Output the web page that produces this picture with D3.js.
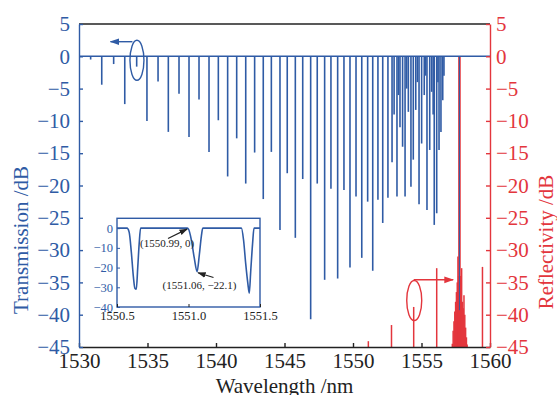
<!DOCTYPE html>
<html>
<head>
<meta charset="utf-8">
<script src="https://cdn.jsdelivr.net/npm/d3@7"></script>
<style>
  body { margin: 0; background: #fff; }
  svg { display: block; }
  text { font-family: "Liberation Serif", "DejaVu Serif", serif; }
</style>
</head>
<body>
<div id="chart"></div>
<script>

// transmission dips (wavelength nm, depth dB)
var dipWl = [1530.85, 1531.66, 1532.53, 1533.34, 1534.21, 1534.96, 1535.77, 1536.52, 1537.30, 1538.03,
             1538.76, 1539.49, 1540.17, 1540.85, 1541.51, 1542.17, 1542.82, 1543.45, 1544.04, 1544.67,
             1545.20, 1545.79, 1546.33, 1546.91, 1547.39, 1547.93, 1548.39, 1548.88, 1549.34, 1549.78,
             1550.22, 1550.64, 1551.07, 1551.44, 1551.82, 1552.17, 1552.55, 1552.85, 1553.00, 1553.21,
             1553.32, 1553.43, 1553.62, 1553.80, 1553.92, 1554.04, 1554.23, 1554.40, 1554.58, 1554.70,
             1554.82, 1555.01, 1555.20, 1555.30, 1555.40, 1555.60, 1555.74, 1555.85, 1555.93, 1556.11,
             1556.20, 1556.28, 1556.42, 1556.55, 1556.64, 1557.77];
var dipDb = [-0.5, -4.4, -1.2, -7.4, -1.6, -10, -3.9, -11.7, -5.8, -12.5,
             -6.7, -14.8, -9.9, -18.6, -12.7, -19.7, -14.9, -22.1, -14.8, -26.9,
             -18.1, -28.1, -19, -40.7, -19.7, -34.6, -20.5, -34.4, -20.7, -32.7,
             -21.7, -31.2, -22.5, -33.2, -22.2, -25.8, -21.9, -16.4, -9, -21.7,
             -6, -11, -14, -21.7, -5, -8.6, -20.2, -16, -8.3, -4,
             -22.9, -13.5, -6, -3, -23.8, -14.5, -5.5, -9, -26.1, -24.3,
             -4, -14.5, -11.7, -6.8, -3, -39.3];

// reflectivity spikes (wavelength nm, dB)
var reflWl = [1551.12, 1552.81, 1554.43, 1556.11, 1559.45,
              1557.25, 1557.31, 1557.37, 1557.43, 1557.49, 1557.55, 1557.61, 1557.66, 1557.71, 1557.77,
              1557.83, 1557.88, 1557.93, 1557.99, 1558.05, 1558.10, 1558.16, 1558.22, 1558.28, 1558.33];
var reflDb = [-44.1, -41.6, -38.8, -32.8, -32.6,
              -44.5, -42.5, -41, -39.5, -38, -36.5, -35, -31, -34, 0,
              -34, -36, -32.8, -38, -39, -37, -40, -42, -43.5, -44.6];

// inset curve
var insetWl = [1550.50, 1550.57, 1550.585, 1550.60, 1550.615, 1550.625, 1550.635, 1550.645, 1550.655, 1550.665,
               1550.99, 1551.00, 1551.02, 1551.04, 1551.06, 1551.075, 1551.09, 1551.10,
               1551.37, 1551.385, 1551.40, 1551.415, 1551.425, 1551.435, 1551.448, 1551.458, 1551.50];
var insetDb = [0, 0, -2, -12, -25, -30.5, -31, -20, -8, 0,
               0, -0.5, -6, -15, -22.1, -14, -4, 0,
               0, -6, -18, -28, -33, -22, -8, 0, 0];

var xTicks = [1530, 1535, 1540, 1545, 1550, 1555, 1560];
var yTicks = [5, 0, -5, -10, -15, -20, -25, -30, -35, -40, -45];
var insetXTicks = [1550.5, 1551.0, 1551.5];
var insetYTicks = [0, -10, -20, -30, -40];

var W = 557, H = 395,
    margin = {top: 24, right: 67, bottom: 48, left: 79},
    blue = '#2f5ba5',
    red = '#e3363d',
    ink = '#222';

var svg = d3.select('#chart').append('svg').attr('width', W).attr('height', H);

var x = d3.scaleLinear().domain([1530, 1560]).range([margin.left, W - margin.right]);
var y = d3.scaleLinear().domain([-45, 5]).range([H - margin.bottom, margin.top]);

var minus = function(v) { return String(v).replace('-', '\u2212'); };

var defs = svg.append('defs');
function marker(id, col) {
    defs.append('marker')
        .attr('id', id).attr('viewBox', '0 0 10 10')
        .attr('refX', 9).attr('refY', 5)
        .attr('markerWidth', 7).attr('markerHeight', 7)
        .attr('orient', 'auto-start-reverse')
        .append('path').attr('d', 'M0,1.5L10,5L0,8.5Z').attr('fill', col);
}
marker('ah-blue', blue);
marker('ah-red', red);
marker('ah-ink', ink);

// red reflectivity spikes
svg.append('g').selectAll('line').data(reflWl).enter().append('line')
    .attr('x1', function(d) { return x(d); })
    .attr('x2', function(d) { return x(d); })
    .attr('y1', y(-45))
    .attr('y2', function(d, i) { return y(reflDb[i]); })
    .attr('stroke', red)
    .attr('stroke-width', function(d, i) { return reflDb[i] === 0 ? 2.6 : 1.5; });

// blue transmission baseline and dips
svg.append('line')
    .attr('x1', x(1530)).attr('x2', x(1560))
    .attr('y1', y(0)).attr('y2', y(0))
    .attr('stroke', blue).attr('stroke-width', 1.6);

svg.append('g').selectAll('line').data(dipWl).enter().append('line')
    .attr('x1', function(d) { return x(d); })
    .attr('x2', function(d) { return x(d); })
    .attr('y1', y(0))
    .attr('y2', function(d, i) { return y(dipDb[i]); })
    .attr('stroke', blue)
    .attr('stroke-width', function(d, i) { return i === dipWl.length - 1 ? 1 : 1.6; });

// axes
var xAxis = svg.append('g')
    .attr('transform', 'translate(0,' + y(-45) + ')')
    .call(d3.axisBottom(x).tickValues(xTicks).tickSize(-4).tickSizeOuter(0).tickPadding(6).tickFormat(d3.format('d')));
xAxis.selectAll('path,line').attr('stroke', ink).attr('stroke-width', 1.4);
xAxis.selectAll('text').attr('fill', ink).style('font-size', '21px');

svg.append('line')
    .attr('x1', x(1530)).attr('x2', x(1560))
    .attr('y1', y(5)).attr('y2', y(5))
    .attr('stroke', ink).attr('stroke-width', 1.4);

var yAxis = svg.append('g')
    .attr('transform', 'translate(' + x(1530) + ',0)')
    .call(d3.axisLeft(y).tickValues(yTicks).tickSize(-4).tickSizeOuter(0).tickPadding(9).tickFormat(minus));
yAxis.selectAll('path,line').attr('stroke', blue).attr('stroke-width', 1.4);
yAxis.selectAll('text').attr('fill', blue).style('font-size', '21px');

var rAxis = svg.append('g')
    .attr('transform', 'translate(' + x(1560) + ',0)')
    .call(d3.axisRight(y).tickValues(yTicks).tickSize(-4).tickSizeOuter(0).tickPadding(6).tickFormat(minus));
rAxis.selectAll('path,line').attr('stroke', red).attr('stroke-width', 1.4);
rAxis.selectAll('text').attr('fill', red).style('font-size', '21px');

// axis titles
svg.append('text')
    .attr('transform', 'translate(27.5,240) rotate(-90)')
    .attr('text-anchor', 'middle')
    .attr('fill', blue).style('font-size', '21px')
    .text('Transmission /dB');

svg.append('text')
    .attr('transform', 'translate(553,242) rotate(-90)')
    .attr('text-anchor', 'middle')
    .attr('fill', red).style('font-size', '21px')
    .text('Reflectivity /dB');

svg.append('text')
    .attr('x', (x(1530) + x(1560)) / 2).attr('y', 393)
    .attr('text-anchor', 'middle')
    .attr('fill', ink).style('font-size', '21px')
    .text('Wavelength /nm');

// ellipse markers with arrows
svg.append('ellipse')
    .attr('cx', x(1534.23)).attr('cy', y(-0.62)).attr('rx', 7).attr('ry', 20)
    .attr('fill', 'none').attr('stroke', blue).attr('stroke-width', 1.4);
svg.append('line')
    .attr('x1', x(1533.9)).attr('y1', y(2.26))
    .attr('x2', x(1532.3)).attr('y2', y(2.26))
    .attr('stroke', blue).attr('stroke-width', 1.4)
    .attr('marker-end', 'url(#ah-blue)');

svg.append('ellipse')
    .attr('cx', x(1554.47)).attr('cy', y(-37.8)).attr('rx', 7.5).attr('ry', 20)
    .attr('fill', 'none').attr('stroke', red).attr('stroke-width', 1.4);
svg.append('line')
    .attr('x1', x(1554.43)).attr('y1', y(-34.6))
    .attr('x2', x(1557.31)).attr('y2', y(-34.6))
    .attr('stroke', red).attr('stroke-width', 1.4)
    .attr('marker-end', 'url(#ah-red)');

// inset
var xi = d3.scaleLinear().domain([1550.5, 1551.5]).range([117, 260]);
var yi = d3.scaleLinear().domain([-40, 5]).range([307, 218.3]);

var inset = svg.append('g');
inset.append('rect')
    .attr('x', xi(1550.5)).attr('y', yi(5))
    .attr('width', xi(1551.5) - xi(1550.5)).attr('height', yi(-40) - yi(5))
    .attr('fill', '#fff').attr('stroke', blue).attr('stroke-width', 1.4);

var ixAxis = inset.append('g')
    .attr('transform', 'translate(0,' + yi(-40) + ')')
    .call(d3.axisBottom(xi).tickValues(insetXTicks).tickSize(-3).tickSizeOuter(0).tickPadding(4).tickFormat(d3.format('.1f')));
ixAxis.select('.domain').remove();
ixAxis.selectAll('line').attr('stroke', ink);
ixAxis.selectAll('text').attr('fill', ink).style('font-size', '12.5px');

var iyAxis = inset.append('g')
    .attr('transform', 'translate(' + xi(1550.5) + ',0)')
    .call(d3.axisLeft(yi).tickValues(insetYTicks).tickSize(-3).tickSizeOuter(0).tickPadding(4).tickFormat(minus));
iyAxis.select('.domain').remove();
iyAxis.selectAll('line').attr('stroke', blue);
iyAxis.selectAll('text').attr('fill', blue).style('font-size', '12.5px');

inset.append('path')
    .datum(d3.zip(insetWl, insetDb))
    .attr('d', d3.line().x(function(d) { return xi(d[0]); }).y(function(d) { return yi(d[1]); }).curve(d3.curveMonotoneX))
    .attr('fill', 'none').attr('stroke', blue).attr('stroke-width', 1.6);

inset.append('line')
    .attr('x1', 168).attr('y1', 238.5)
    .attr('x2', xi(1550.99)).attr('y2', yi(0) + 1)
    .attr('stroke', ink).attr('stroke-width', 1.2)
    .attr('marker-end', 'url(#ah-ink)');
inset.append('text')
    .attr('x', 140).attr('y', 247)
    .attr('fill', ink).style('font-size', '11px')
    .text('(1550.99, 0)');

inset.append('line')
    .attr('x1', 213.5).attr('y1', 277.5)
    .attr('x2', xi(1551.06) + 1).attr('y2', yi(-22.1) + 1)
    .attr('stroke', ink).attr('stroke-width', 1.2)
    .attr('marker-end', 'url(#ah-ink)');
inset.append('text')
    .attr('x', 162.5).attr('y', 289)
    .attr('fill', ink).style('font-size', '11px')
    .text('(1551.06, \u221222.1)');

</script>
</body>
</html>
